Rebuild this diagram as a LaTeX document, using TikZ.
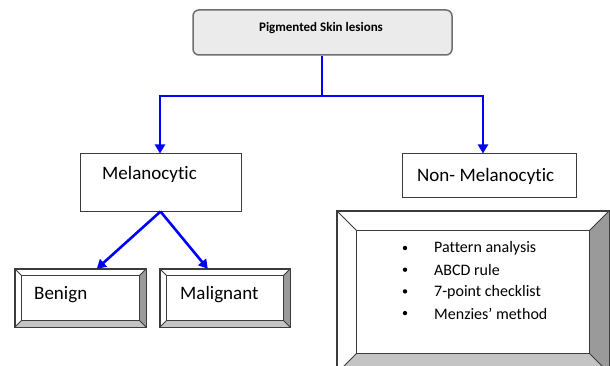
\documentclass[tikz,border=0pt]{standalone}
\usepackage{fontspec}
\setmainfont{Carlito}[Ligatures=NoCommon]
\usetikzlibrary{arrows.meta,calc}
\definecolor{topfill}{HTML}{EBEBEB}
\definecolor{topdraw}{HTML}{6E6E6E}
\definecolor{bevright}{HTML}{9A9A9A}
\definecolor{bevbottom}{HTML}{C4C4C4}
\definecolor{bevline}{HTML}{3C3C3C}
\definecolor{linkblue}{HTML}{0000FF}
\tikzset{
  topbox/.style={draw=topdraw, line width=1.5pt, fill=topfill, rounded corners=6pt, inner sep=0pt},
  plainbox/.style={draw=bevline, line width=1pt, fill=white, inner sep=0pt},
  outerbox/.style={inner sep=0pt},
  link/.style={draw=linkblue, line width=2.6pt},
  linkarrow/.style={link, -{Triangle[length=9pt,width=10pt]}},
  lbl/.style={font=\fontsize{19}{22}\selectfont, inner sep=0pt, anchor=west},
  item/.style={font=\fontsize{16}{19}\selectfont, inner sep=0pt, anchor=west},
}
\newcommand\bevelbox[2]{%
  \fill[white] (#1.north west) -- (#1.north east) -- ++(-#2,#2) -- ($(#1.north west)+(#2,#2)$) -- cycle;
  \fill[white] (#1.north west) -- ($(#1.north west)+(#2,#2)$) -- ($(#1.south west)+(#2,-#2)$) -- (#1.south west) -- cycle;
  \fill[bevright] (#1.north east) -- (#1.south east) -- ++(-#2,-#2) -- ($(#1.north east)+(-#2,#2)$) -- cycle;
  \fill[bevbottom] (#1.south west) -- (#1.south east) -- ++(-#2,-#2) -- ($(#1.south west)+(#2,-#2)$) -- cycle;
  \draw[bevline, line width=0.8pt] ($(#1.north west)+(#2,#2)$) rectangle ($(#1.south east)+(-#2,-#2)$);
  \draw[bevline, line width=0.8pt] (#1.north west) -- ++(#2,#2) (#1.north east) -- ++(-#2,#2)
     (#1.south west) -- ++(#2,-#2) (#1.south east) -- ++(-#2,-#2);
  \draw[bevline, line width=1.4pt] (#1.north west) rectangle (#1.south east);
}
\begin{document}
\begin{tikzpicture}[x=1pt,y=-1pt]
\useasboundingbox (0,0) rectangle (610,366);
\begin{scope}
\clip (0,0) rectangle (610,366);
% top box
\node[topbox, minimum width=259pt, minimum height=45pt] (top) at (322.5,32.5) {};
\node[font=\fontsize{13}{15}\selectfont\bfseries, inner sep=0pt] (toplbl) at (321,28) {Pigmented Skin lesions};
% level 2 boxes
\node[plainbox, minimum width=161pt, minimum height=57pt] (mel) at (160.5,182.5) {};
\node[lbl] (mellbl) at (102,174) {Melanocytic};
\node[plainbox, minimum width=174pt, minimum height=44pt] (non) at (489,176) {};
\node[lbl] (nonlbl) at (417,176) {Non- Melanocytic};
% level 3 bevel boxes
\node[outerbox, minimum width=131pt, minimum height=58pt] (ben) at (80.5,298) {};
\bevelbox{ben}{7}
\node[lbl] (benlbl) at (34,295) {Benign};
\node[outerbox, minimum width=130pt, minimum height=58pt] (mal) at (225,298) {};
\bevelbox{mal}{7}
\node[lbl] (mallbl) at (180,295) {Malignant};
\node[outerbox, minimum width=272pt, minimum height=162pt] (big) at (473,292) {};
\bevelbox{big}{20}
% bullet list
\foreach \i/\t in {0/Pattern analysis,1/ABCD rule,2/7-point checklist,3/Menzies’ method}{
  \fill (405,248+21.7*\i) circle (2.2pt);
  \node[item] at (434,248.5+21.7*\i) {\t};
}
\end{scope}
% connectors
\coordinate (split) at (322,96);
\coordinate (leftc) at (160,96);
\coordinate (rightc) at (483,96);
\draw[link] (top.south -| split) -- (split);
\draw[link, line cap=rect] (leftc) -- (rightc);
\draw[linkarrow] (leftc) -- (mel.north -| leftc);
\draw[linkarrow] (rightc) -- (non.north -| rightc);
\draw[linkarrow] (mel.south) -- ($(ben.north west)+(82,0)$);
\draw[linkarrow] (mel.south) -- ($(mal.north west)+(48,0)$);
\end{tikzpicture}
\end{document}
